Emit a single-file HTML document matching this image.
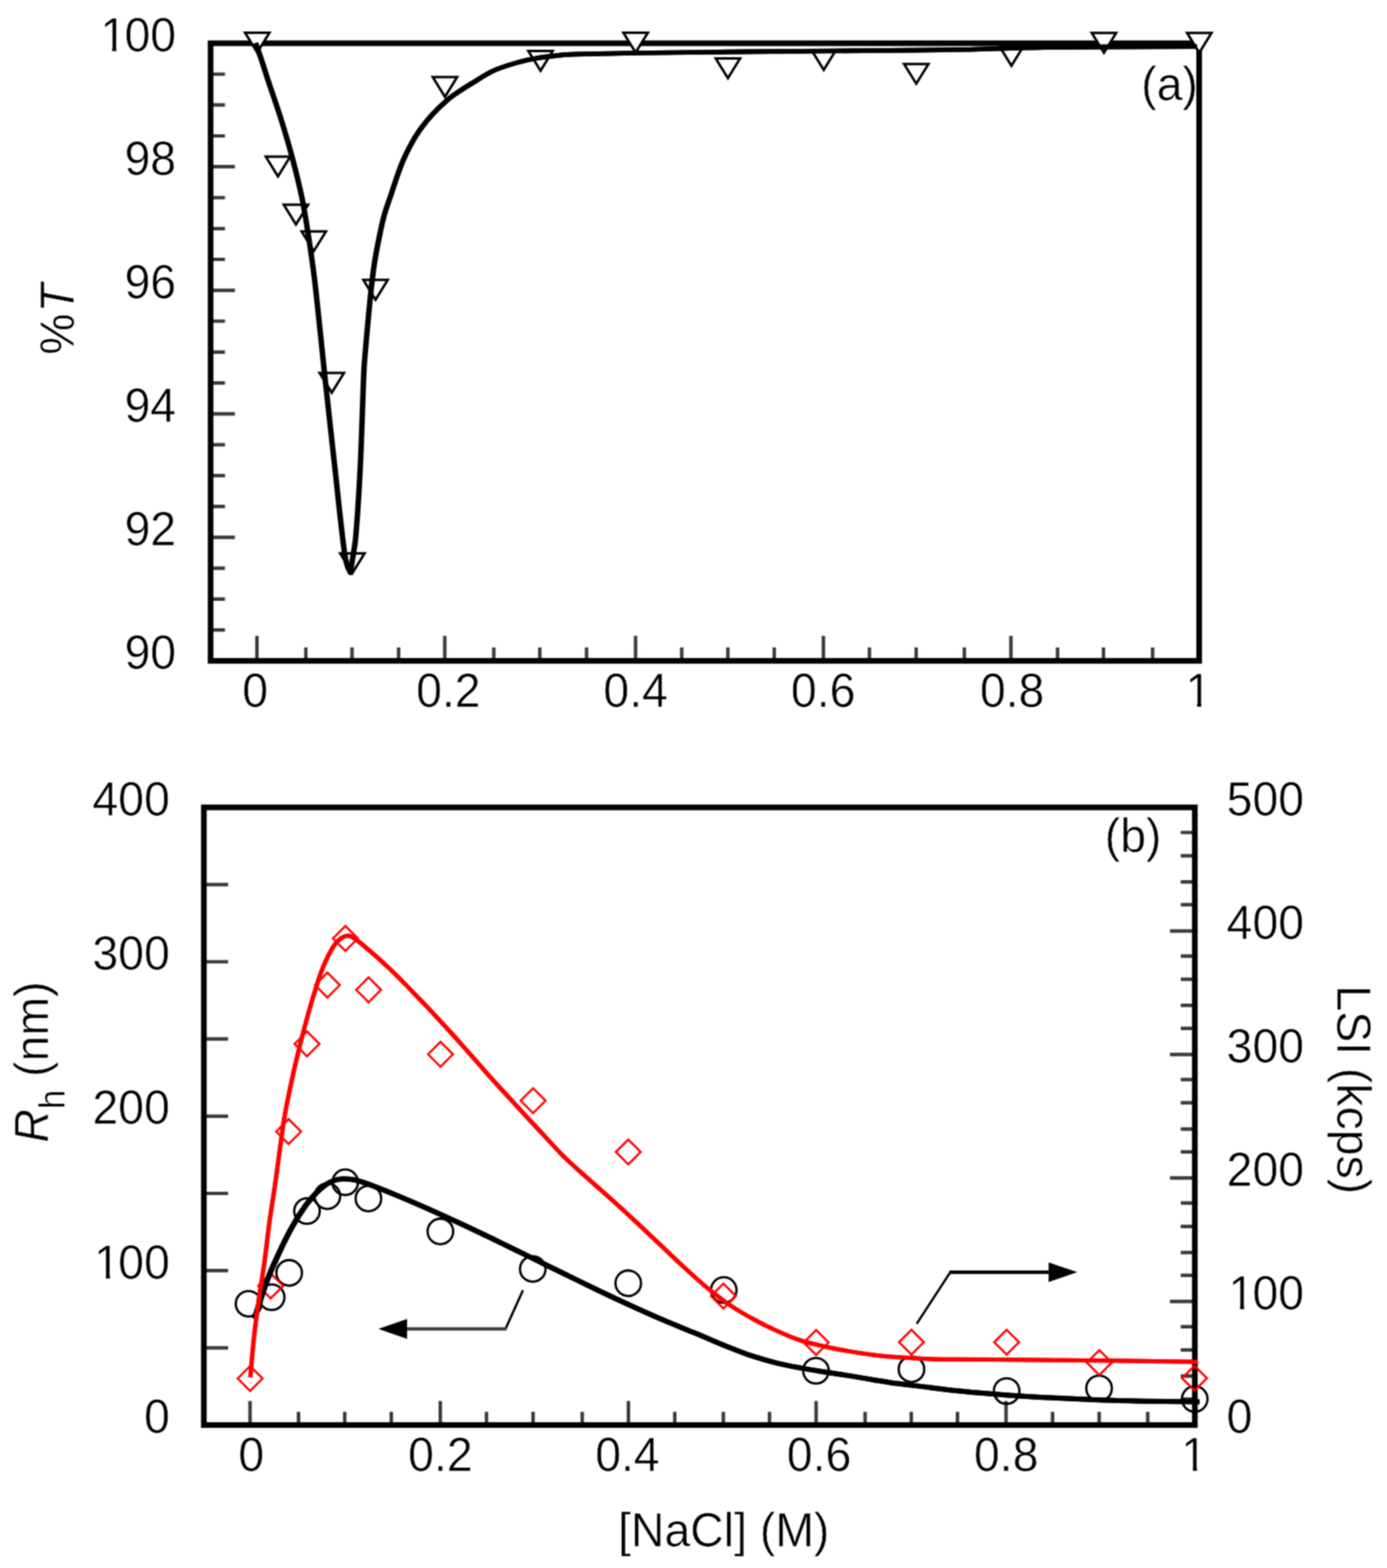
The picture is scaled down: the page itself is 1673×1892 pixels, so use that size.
<!DOCTYPE html>
<html lang="en">
<head>
<meta charset="utf-8">
<title>%T and R_h / LSI versus [NaCl]</title>
<style>
html,body{margin:0;padding:0;background:#fff}
body{width:1673px;height:1892px;overflow:hidden}
svg{display:block}
text{font-family:"Liberation Sans",Arial,Helvetica,sans-serif;font-size:56px;fill:#000;stroke:#fff;stroke-width:0.55px;stroke-linejoin:round}
</style>
</head>
<body>
<svg xmlns="http://www.w3.org/2000/svg" width="1673" height="1892" viewBox="0 0 1673 1892">
<defs><filter id="soft" x="0" y="0" width="100%" height="100%" filterUnits="objectBoundingBox" color-interpolation-filters="sRGB"><feConvolveMatrix order="3" kernelMatrix="1 2 1 2 4 2 1 2 1" divisor="16" edgeMode="duplicate" preserveAlpha="true"/></filter></defs>
<rect width="1673" height="1892" fill="#fff"/>
<g filter="url(#soft)">
<rect width="1673" height="1892" fill="#fff"/>
<g id="panel-a">
<path d="M254,89.5 H271.4 M254,126.7 H271.4 M254,164 H271.4 M254,201.2 H283.4 M254,238.5 H271.4 M254,275.8 H271.4 M254,313 H271.4 M254,350.3 H283.4 M254,387.5 H271.4 M254,424.8 H271.4 M254,462.1 H271.4 M254,499.3 H283.4 M254,536.6 H271.4 M254,573.8 H271.4 M254,611.1 H271.4 M254,648.4 H283.4 M254,685.6 H271.4 M254,722.9 H271.4 M254,760.1 H271.4 M309.9,797.4 V767.2 M368.9,797.4 V781.2 M424.6,797.4 V781.2 M480.8,797.4 V781.2 M536.5,797.4 V767.2 M595.6,797.4 V781.2 M651.1,797.4 V781.2 M707.5,797.4 V781.2 M766.6,797.4 V767.2 M822.3,797.4 V781.2 M878,797.4 V781.2 M933.9,797.4 V781.2 M993.2,797.4 V767.2 M1048.7,797.4 V781.2 M1105.1,797.4 V781.2 M1163.2,797.4 V781.2 M1219.4,797.4 V767.2 M1275.6,797.4 V781.2 M1331,797.4 V781.2 M1390.3,797.4 V781.2" fill="none" stroke="#3a3a3a" stroke-width="4.2"/>
<rect x="254" y="52.2" width="1192.4" height="745.2" fill="none" stroke="#000" stroke-width="6.8"/>
<text transform="translate(121.3,61.6) scale(1,1.035)">1<tspan dx="-2.2">00</tspan></text>
<rect x="124.33" y="55.67" width="11.02" height="7.13" fill="#fff"/>
<rect x="140.30" y="55.67" width="10.58" height="7.13" fill="#fff"/>
<text transform="translate(212.5,210.6) scale(1,1.035)" text-anchor="end">98</text>
<text transform="translate(212.5,359.7) scale(1,1.035)" text-anchor="end">96</text>
<text transform="translate(212.5,508.7) scale(1,1.035)" text-anchor="end">94</text>
<text transform="translate(212.5,657.8) scale(1,1.035)" text-anchor="end">92</text>
<text transform="translate(212.5,806.8) scale(1,1.035)" text-anchor="end">90</text>
<text transform="translate(307.8,853.1) scale(1,1.035)" text-anchor="middle">0</text>
<text transform="translate(540.8,853.1) scale(1,1.035)" text-anchor="middle">0.2</text>
<text transform="translate(766.7,853.1) scale(1,1.035)" text-anchor="middle">0.4</text>
<text transform="translate(992.9,853.1) scale(1,1.035)" text-anchor="middle">0.6</text>
<text transform="translate(1220.8,853.1) scale(1,1.035)" text-anchor="middle">0.8</text>
<text transform="translate(1429.9,853.1) scale(1,1.035)">1</text>
<rect x="1432.99" y="847.17" width="11.02" height="7.13" fill="#fff"/>
<rect x="1448.96" y="847.17" width="10.58" height="7.13" fill="#fff"/>
<text transform="translate(1445,121.3) scale(1,1.035)" text-anchor="end">(a)</text>
<text transform="translate(89,428) rotate(-90) scale(1,1.035)">%<tspan font-style="italic" dx="1.6">T</tspan></text>
<g fill="#fff" stroke="#000" stroke-width="3" stroke-linejoin="miter">
<path d="M295.6,39.6 h29.4 l-14.7,23.8 z"/>
<path d="M320.6,189.1 h29.4 l-14.7,23.8 z"/>
<path d="M342.3,247 h29.4 l-14.7,23.8 z"/>
<path d="M363.8,279.2 h29.4 l-14.7,23.8 z"/>
<path d="M385.5,450.1 h29.4 l-14.7,23.8 z"/>
<path d="M410.3,667.8 h29.4 l-14.7,23.8 z"/>
<path d="M438.3,337.8 h29.4 l-14.7,23.8 z"/>
<path d="M522,93 h29.4 l-14.7,23.8 z"/>
<path d="M637.3,61.6 h29.4 l-14.7,23.8 z"/>
<path d="M752,39.5 h29.4 l-14.7,23.8 z"/>
<path d="M863.3,70.6 h29.4 l-14.7,23.8 z"/>
<path d="M978.9,60.6 h29.4 l-14.7,23.8 z"/>
<path d="M1090.5,77.2 h29.4 l-14.7,23.8 z"/>
<path d="M1205.3,55.6 h29.4 l-14.7,23.8 z"/>
<path d="M1316.9,39.8 h29.4 l-14.7,23.8 z"/>
<path d="M1431.9,39.8 h29.4 l-14.7,23.8 z"/>
</g>
<g fill="none" stroke="#000" stroke-width="5.6" stroke-linejoin="round">
<path transform="translate(-0.5,0)" d="M308.3,52 C309.5,55.3 312.9,64.7 315.3,72 C317.7,79.3 319,83.7 322.9,95.6 C326.8,107.5 333.9,127.5 338.9,143.5 C343.9,159.4 348.6,175.4 352.8,191.3 C357,207.2 361,223.2 364.3,239.1 C367.6,255 369.9,271 372.4,286.9 C374.9,302.8 377.1,318.8 379.1,334.7 C381.1,350.6 382.2,362.4 384.4,382.6 C386.5,402.8 388.8,425.9 392,455.7 C395.2,485.5 399.7,526.2 403.6,561.4 C407.5,596.6 412.4,645.5 415.6,667.1 C418.8,688.7 421.4,687 422.6,691 C423.2,687 425.2,675.3 426.4,667.1 C427.6,658.9 428.2,659.4 429.6,642 C431,624.6 433.1,593.8 434.6,562.7 C436.1,531.7 437.7,477.8 438.6,455.7 C439.5,433.6 439.5,439.3 440.2,430 C440.9,420.7 441.6,413.3 442.8,400 C444,386.7 446.1,363.7 447.6,350 C449.1,336.3 450,328.5 451.6,318 C453.2,307.5 455.3,296.6 457.3,286.9 C459.3,277.2 460.9,268.8 463.4,260 C465.8,251.2 469.5,241.4 472,233.9 C474.5,226.4 476.1,221.2 478.3,214.8 C480.5,208.4 482.7,202 485.4,195.6 C488.1,189.2 491.1,182.9 494.5,176.5 C497.9,170.1 501.5,163.8 506,157.4 C510.5,151 515.4,144.7 521.3,138.3 C527.2,131.9 535.8,123.9 541.4,119.1 C547,114.3 550,112.8 554.8,109.6 C559.6,106.4 563.4,104 570.1,100 C576.8,96 585.9,89.6 594.8,85.5 C603.7,81.4 614.7,78.1 623.5,75.6 C632.3,73 639.4,71.6 647.4,70.2 C655.4,68.8 663.3,67.9 671.3,67.1 C679.3,66.3 679.3,65.9 695.2,65.4 C711.1,64.9 736.1,64.5 766.9,64 C797.7,63.5 841.1,63 880,62.6 C918.9,62.2 963.3,61.8 1000,61.5 C1036.7,61.2 1071.7,60.9 1100,60.6 C1128.3,60.3 1150.3,60.1 1170,59.7 C1189.7,59.3 1203,58.7 1218,58.3 C1233,57.9 1241.3,57.6 1260,57.3 C1278.7,57 1299.4,56.8 1330,56.6 C1360.6,56.4 1424.6,56.3 1443.5,56.2"/>
<path transform="translate(0.5,0)" d="M308.3,52 C309.5,55.3 312.9,64.7 315.3,72 C317.7,79.3 319,83.7 322.9,95.6 C326.8,107.5 333.9,127.5 338.9,143.5 C343.9,159.4 348.6,175.4 352.8,191.3 C357,207.2 361,223.2 364.3,239.1 C367.6,255 369.9,271 372.4,286.9 C374.9,302.8 377.1,318.8 379.1,334.7 C381.1,350.6 382.2,362.4 384.4,382.6 C386.5,402.8 388.8,425.9 392,455.7 C395.2,485.5 399.7,526.2 403.6,561.4 C407.5,596.6 412.4,645.5 415.6,667.1 C418.8,688.7 421.4,687 422.6,691 C423.2,687 425.2,675.3 426.4,667.1 C427.6,658.9 428.2,659.4 429.6,642 C431,624.6 433.1,593.8 434.6,562.7 C436.1,531.7 437.7,477.8 438.6,455.7 C439.5,433.6 439.5,439.3 440.2,430 C440.9,420.7 441.6,413.3 442.8,400 C444,386.7 446.1,363.7 447.6,350 C449.1,336.3 450,328.5 451.6,318 C453.2,307.5 455.3,296.6 457.3,286.9 C459.3,277.2 460.9,268.8 463.4,260 C465.8,251.2 469.5,241.4 472,233.9 C474.5,226.4 476.1,221.2 478.3,214.8 C480.5,208.4 482.7,202 485.4,195.6 C488.1,189.2 491.1,182.9 494.5,176.5 C497.9,170.1 501.5,163.8 506,157.4 C510.5,151 515.4,144.7 521.3,138.3 C527.2,131.9 535.8,123.9 541.4,119.1 C547,114.3 550,112.8 554.8,109.6 C559.6,106.4 563.4,104 570.1,100 C576.8,96 585.9,89.6 594.8,85.5 C603.7,81.4 614.7,78.1 623.5,75.6 C632.3,73 639.4,71.6 647.4,70.2 C655.4,68.8 663.3,67.9 671.3,67.1 C679.3,66.3 679.3,65.9 695.2,65.4 C711.1,64.9 736.1,64.5 766.9,64 C797.7,63.5 841.1,63 880,62.6 C918.9,62.2 963.3,61.8 1000,61.5 C1036.7,61.2 1071.7,60.9 1100,60.6 C1128.3,60.3 1150.3,60.1 1170,59.7 C1189.7,59.3 1203,58.7 1218,58.3 C1233,57.9 1241.3,57.6 1260,57.3 C1278.7,57 1299.4,56.8 1330,56.6 C1360.6,56.4 1424.6,56.3 1443.5,56.2"/>
</g>
</g>
<g id="panel-b">
<path d="M245.9,1067.4 H275.2 M245.9,1160.5 H275.2 M245.9,1253.7 H275.2 M245.9,1346.8 H275.2 M245.9,1440 H275.2 M245.9,1533.2 H275.2 M245.9,1626.3 H275.2 M1441.2,1004.5 H1424.2 M1441.2,1032.6 H1424.2 M1441.2,1064.1 H1424.2 M1441.2,1091.7 H1424.2 M1441.2,1123.3 H1411.2 M1441.2,1153.6 H1424.2 M1441.2,1181.7 H1424.2 M1441.2,1213.2 H1424.2 M1441.2,1240.8 H1424.2 M1441.2,1272.3 H1411.2 M1441.2,1302.6 H1424.2 M1441.2,1330.7 H1424.2 M1441.2,1362.3 H1424.2 M1441.2,1389.9 H1424.2 M1441.2,1421.4 H1411.2 M1441.2,1451.7 H1424.2 M1441.2,1479.8 H1424.2 M1441.2,1511.3 H1424.2 M1441.2,1538.9 H1424.2 M1441.2,1570.4 H1411.2 M1441.2,1600.8 H1424.2 M1441.2,1628.9 H1424.2 M1441.2,1660.4 H1424.2 M1441.2,1688 H1424.2 M301.6,1719.5 V1690.4 M360.1,1719.5 V1703.6 M415.8,1719.5 V1703.6 M472,1719.5 V1703.6 M531.1,1719.5 V1690.4 M586.8,1719.5 V1703.6 M643,1719.5 V1703.6 M702.3,1719.5 V1703.6 M758,1719.5 V1690.4 M813.9,1719.5 V1703.6 M872.5,1719.5 V1703.6 M928.2,1719.5 V1703.6 M984.4,1719.5 V1690.4 M1043.5,1719.5 V1703.6 M1099.2,1719.5 V1703.6 M1154.9,1719.5 V1703.6 M1213.5,1719.5 V1690.4 M1269.6,1719.5 V1703.6 M1325.8,1719.5 V1703.6 M1384.4,1719.5 V1703.6" fill="none" stroke="#3a3a3a" stroke-width="4.2"/>
<rect x="245.9" y="974.2" width="1195.3" height="745.3" fill="none" stroke="#000" stroke-width="6.8"/>
<text transform="translate(204.8,983.6) scale(1,1.035)" text-anchor="end">400</text>
<text transform="translate(204.8,1169.9) scale(1,1.035)" text-anchor="end">300</text>
<text transform="translate(204.8,1356.2) scale(1,1.035)" text-anchor="end">200</text>
<text transform="translate(113.6,1542.6) scale(1,1.035)">1<tspan dx="-2.2">00</tspan></text>
<rect x="116.63" y="1536.64" width="11.02" height="7.13" fill="#fff"/>
<rect x="132.60" y="1536.64" width="10.58" height="7.13" fill="#fff"/>
<text transform="translate(204.8,1728.9) scale(1,1.035)" text-anchor="end">0</text>
<text transform="translate(1479.5,983.6) scale(1,1.035)">500</text>
<text transform="translate(1479.5,1132.7) scale(1,1.035)">400</text>
<text transform="translate(1479.5,1281.7) scale(1,1.035)">300</text>
<text transform="translate(1479.5,1430.8) scale(1,1.035)">200</text>
<text transform="translate(1481.7,1579.8) scale(1,1.035)">1<tspan dx="-2.2">00</tspan></text>
<rect x="1484.77" y="1573.91" width="11.02" height="7.13" fill="#fff"/>
<rect x="1500.73" y="1573.91" width="10.58" height="7.13" fill="#fff"/>
<text transform="translate(1479.5,1728.9) scale(1,1.035)">0</text>
<text transform="translate(303.1,1775.4) scale(1,1.035)" text-anchor="middle">0</text>
<text transform="translate(531.2,1775.4) scale(1,1.035)" text-anchor="middle">0.2</text>
<text transform="translate(756.8,1775.4) scale(1,1.035)" text-anchor="middle">0.4</text>
<text transform="translate(987.9,1775.4) scale(1,1.035)" text-anchor="middle">0.6</text>
<text transform="translate(1213.6,1775.4) scale(1,1.035)" text-anchor="middle">0.8</text>
<text transform="translate(1424.7,1775.4) scale(1,1.035)">1</text>
<rect x="1427.79" y="1769.47" width="11.02" height="7.13" fill="#fff"/>
<rect x="1443.76" y="1769.47" width="10.58" height="7.13" fill="#fff"/>
<text transform="translate(1401,1027.6) scale(1,1.035)" text-anchor="end">(b)</text>
<text transform="translate(58.4,1378.8) rotate(-90) scale(1,1.035)"><tspan font-style="italic">R</tspan><tspan font-size="42" dy="18.5">h</tspan><tspan dy="-18.5"> (nm)</tspan></text>
<text transform="translate(1613.2,1189) rotate(90) scale(1,1.035)">LSI (kcps)</text>
<text transform="translate(873,1865.7) scale(1,1.035)" text-anchor="middle">[NaCl] (M)</text>
<g fill="none" stroke="#000" stroke-width="2.8">
<circle cx="299.8" cy="1573.2" r="15.4"/>
<circle cx="327.7" cy="1565.3" r="15.4"/>
<circle cx="348.8" cy="1535.9" r="15.4"/>
<circle cx="370.3" cy="1461.3" r="15.4"/>
<circle cx="394.9" cy="1443.4" r="15.4"/>
<circle cx="416.4" cy="1426.6" r="15.4"/>
<circle cx="444.4" cy="1446.2" r="15.4"/>
<circle cx="531.2" cy="1485.9" r="15.4"/>
<circle cx="642.6" cy="1531.2" r="15.4"/>
<circle cx="757.8" cy="1548.4" r="15.4"/>
<circle cx="873" cy="1556.6" r="15.4"/>
<circle cx="984.2" cy="1654" r="15.4"/>
<circle cx="1099.4" cy="1652.2" r="15.4"/>
<circle cx="1214.2" cy="1678.5" r="15.4"/>
<circle cx="1325.7" cy="1675.2" r="15.4"/>
<circle cx="1441.1" cy="1688.1" r="15.4"/>
</g>
<g fill="none" stroke="#f00" stroke-width="2.6" stroke-linejoin="miter">
<path d="M286.7,1663.3 l15,-15 l15,15 l-15,15 z"/>
<path d="M311.5,1551.7 l15,-15 l15,15 l-15,15 z"/>
<path d="M333.1,1365.3 l15,-15 l15,15 l-15,15 z"/>
<path d="M355.3,1259.6 l15,-15 l15,15 l-15,15 z"/>
<path d="M379.9,1188.6 l15,-15 l15,15 l-15,15 z"/>
<path d="M401.6,1132.3 l15,-15 l15,15 l-15,15 z"/>
<path d="M429.6,1194.3 l15,-15 l15,15 l-15,15 z"/>
<path d="M516.3,1272.1 l15,-15 l15,15 l-15,15 z"/>
<path d="M628,1328.1 l15,-15 l15,15 l-15,15 z"/>
<path d="M742.8,1390 l15,-15 l15,15 l-15,15 z"/>
<path d="M857.6,1563.8 l15,-15 l15,15 l-15,15 z"/>
<path d="M969.4,1619.8 l15,-15 l15,15 l-15,15 z"/>
<path d="M1084.4,1619.5 l15,-15 l15,15 l-15,15 z"/>
<path d="M1199.2,1619.5 l15,-15 l15,15 l-15,15 z"/>
<path d="M1311,1644.2 l15,-15 l15,15 l-15,15 z"/>
<path d="M1425.8,1663 l15,-15 l15,15 l-15,15 z"/>
</g>
<g fill="none" stroke="#000" stroke-width="6.0" stroke-linejoin="round">
<path transform="translate(-0.5,0)" d="M307,1591 C309.4,1583.7 316.5,1560.2 321.3,1547.4 C326.1,1534.6 330.4,1525.1 335.6,1513.9 C340.8,1502.7 346.8,1490.4 352.4,1480.4 C358,1470.4 363.9,1461.3 369.1,1454.1 C374.3,1446.9 378.7,1442 383.5,1437.4 C388.3,1432.8 393,1429.1 397.8,1426.6 C402.6,1424.1 407.3,1423.1 412.1,1422.6 C416.9,1422.1 421.3,1422.5 426.5,1423.5 C431.7,1424.5 434.3,1425.2 443.2,1428.4 C452.1,1431.7 467.2,1437.7 480,1443 C492.8,1448.3 506.7,1454.3 520,1460.2 C533.3,1466.1 546.7,1472.3 560,1478.5 C573.3,1484.7 586.7,1491.2 600,1497.6 C613.3,1504 626.7,1510.6 640,1517.1 C653.3,1523.6 666.7,1530.3 680,1536.8 C693.3,1543.3 706.7,1549.8 720,1556.2 C733.3,1562.6 746.7,1568.9 760,1575 C773.3,1581.1 786.7,1587.1 800,1592.8 C813.3,1598.5 826.7,1603.7 840,1609.2 C853.3,1614.7 868.5,1621.4 880,1626 C891.5,1630.6 899.1,1633.6 908.7,1636.7 C918.3,1639.8 927.9,1642.5 937.4,1644.8 C946.9,1647.1 956.4,1648.8 966,1650.6 C975.6,1652.4 985.2,1654 994.8,1655.5 C1004.4,1657 1014,1658.4 1023.5,1659.9 C1033,1661.4 1042.4,1663.1 1052,1664.7 C1061.6,1666.3 1069.7,1667.8 1081,1669.3 C1092.3,1670.8 1108.5,1672.6 1120,1674 C1131.5,1675.4 1136.7,1676.4 1150,1677.8 C1163.3,1679.2 1181.7,1680.8 1200,1682.2 C1218.3,1683.6 1240,1685.1 1260,1686.2 C1280,1687.3 1300,1688.2 1320,1689 C1340,1689.8 1358.9,1690.3 1380,1690.7 C1401.1,1691.1 1435.4,1691.3 1446.5,1691.4"/>
<path transform="translate(0.5,0)" d="M307,1591 C309.4,1583.7 316.5,1560.2 321.3,1547.4 C326.1,1534.6 330.4,1525.1 335.6,1513.9 C340.8,1502.7 346.8,1490.4 352.4,1480.4 C358,1470.4 363.9,1461.3 369.1,1454.1 C374.3,1446.9 378.7,1442 383.5,1437.4 C388.3,1432.8 393,1429.1 397.8,1426.6 C402.6,1424.1 407.3,1423.1 412.1,1422.6 C416.9,1422.1 421.3,1422.5 426.5,1423.5 C431.7,1424.5 434.3,1425.2 443.2,1428.4 C452.1,1431.7 467.2,1437.7 480,1443 C492.8,1448.3 506.7,1454.3 520,1460.2 C533.3,1466.1 546.7,1472.3 560,1478.5 C573.3,1484.7 586.7,1491.2 600,1497.6 C613.3,1504 626.7,1510.6 640,1517.1 C653.3,1523.6 666.7,1530.3 680,1536.8 C693.3,1543.3 706.7,1549.8 720,1556.2 C733.3,1562.6 746.7,1568.9 760,1575 C773.3,1581.1 786.7,1587.1 800,1592.8 C813.3,1598.5 826.7,1603.7 840,1609.2 C853.3,1614.7 868.5,1621.4 880,1626 C891.5,1630.6 899.1,1633.6 908.7,1636.7 C918.3,1639.8 927.9,1642.5 937.4,1644.8 C946.9,1647.1 956.4,1648.8 966,1650.6 C975.6,1652.4 985.2,1654 994.8,1655.5 C1004.4,1657 1014,1658.4 1023.5,1659.9 C1033,1661.4 1042.4,1663.1 1052,1664.7 C1061.6,1666.3 1069.7,1667.8 1081,1669.3 C1092.3,1670.8 1108.5,1672.6 1120,1674 C1131.5,1675.4 1136.7,1676.4 1150,1677.8 C1163.3,1679.2 1181.7,1680.8 1200,1682.2 C1218.3,1683.6 1240,1685.1 1260,1686.2 C1280,1687.3 1300,1688.2 1320,1689 C1340,1689.8 1358.9,1690.3 1380,1690.7 C1401.1,1691.1 1435.4,1691.3 1446.5,1691.4"/>
</g>
<g fill="none" stroke="#f00" stroke-width="5.0" stroke-linejoin="round">
<path transform="translate(-0.2,0)" d="M302,1662 C302.6,1654.8 304.2,1634.2 305.8,1619.1 C307.4,1604 309.5,1587.2 311.7,1571.3 C313.9,1555.4 316.7,1539.5 318.9,1523.5 C321.1,1507.5 322.7,1491.5 324.9,1475.6 C327.1,1459.6 329.7,1443.7 332,1427.8 C334.3,1411.9 336.6,1393.5 338.5,1380 C340.4,1366.5 340.9,1360.4 343.3,1346.9 C345.7,1333.4 349.4,1315 352.9,1299.1 C356.4,1283.2 360.2,1267.2 364.3,1251.3 C368.4,1235.4 373.3,1217.5 377.5,1203.5 C381.7,1189.5 385.2,1178 389.4,1167.6 C393.6,1157.2 398.8,1147.3 402.6,1141.3 C406.4,1135.3 409.1,1133.7 412.2,1131.7 C415.3,1129.7 417.6,1128 421.5,1129.2 C425.4,1130.4 427.5,1131.9 435.9,1138.8 C444.3,1145.7 459.8,1159.1 471.7,1170.5 C483.6,1181.9 499.6,1198.8 507.6,1207 C515.6,1215.2 511.9,1211.3 520,1220 C528,1228.7 544.1,1246.1 555.9,1259.3 C567.7,1272.5 580.1,1287 590.8,1299 C601.5,1311 610,1320.1 620,1331 C630,1341.9 641,1353.8 651,1364.5 C661,1375.2 670.4,1386 680,1395.5 C689.6,1405 699.1,1413 708.7,1421.6 C718.3,1430.2 727.8,1438.6 737.4,1447.2 C747,1455.8 756.5,1464.5 766.1,1473.4 C775.7,1482.3 785.2,1491.5 794.8,1500.5 C804.4,1509.5 814,1518.8 823.5,1527.6 C833,1536.4 842.7,1545.4 852.1,1553.2 C861.5,1561 870.6,1568.1 880,1574.5 C889.4,1580.9 899.1,1586.5 908.7,1591.7 C918.3,1597 927.9,1601.7 937.4,1606 C946.9,1610.3 956.4,1614.4 966,1617.5 C975.6,1620.6 985.2,1622.5 994.8,1624.7 C1004.4,1626.9 1014,1628.7 1023.5,1630.4 C1033,1632.1 1042.4,1633.5 1052,1634.7 C1061.6,1635.9 1069.7,1636.8 1081,1637.6 C1092.3,1638.4 1108.5,1639.3 1120,1639.8 C1131.5,1640.2 1136.7,1640.2 1150,1640.3 C1163.3,1640.4 1178.3,1640.4 1200,1640.6 C1221.7,1640.8 1253.3,1641.1 1280,1641.3 C1306.7,1641.5 1332.5,1641.7 1360,1642 C1387.5,1642.3 1430.6,1643 1444.7,1643.2"/>
<path transform="translate(0.2,0)" d="M302,1662 C302.6,1654.8 304.2,1634.2 305.8,1619.1 C307.4,1604 309.5,1587.2 311.7,1571.3 C313.9,1555.4 316.7,1539.5 318.9,1523.5 C321.1,1507.5 322.7,1491.5 324.9,1475.6 C327.1,1459.6 329.7,1443.7 332,1427.8 C334.3,1411.9 336.6,1393.5 338.5,1380 C340.4,1366.5 340.9,1360.4 343.3,1346.9 C345.7,1333.4 349.4,1315 352.9,1299.1 C356.4,1283.2 360.2,1267.2 364.3,1251.3 C368.4,1235.4 373.3,1217.5 377.5,1203.5 C381.7,1189.5 385.2,1178 389.4,1167.6 C393.6,1157.2 398.8,1147.3 402.6,1141.3 C406.4,1135.3 409.1,1133.7 412.2,1131.7 C415.3,1129.7 417.6,1128 421.5,1129.2 C425.4,1130.4 427.5,1131.9 435.9,1138.8 C444.3,1145.7 459.8,1159.1 471.7,1170.5 C483.6,1181.9 499.6,1198.8 507.6,1207 C515.6,1215.2 511.9,1211.3 520,1220 C528,1228.7 544.1,1246.1 555.9,1259.3 C567.7,1272.5 580.1,1287 590.8,1299 C601.5,1311 610,1320.1 620,1331 C630,1341.9 641,1353.8 651,1364.5 C661,1375.2 670.4,1386 680,1395.5 C689.6,1405 699.1,1413 708.7,1421.6 C718.3,1430.2 727.8,1438.6 737.4,1447.2 C747,1455.8 756.5,1464.5 766.1,1473.4 C775.7,1482.3 785.2,1491.5 794.8,1500.5 C804.4,1509.5 814,1518.8 823.5,1527.6 C833,1536.4 842.7,1545.4 852.1,1553.2 C861.5,1561 870.6,1568.1 880,1574.5 C889.4,1580.9 899.1,1586.5 908.7,1591.7 C918.3,1597 927.9,1601.7 937.4,1606 C946.9,1610.3 956.4,1614.4 966,1617.5 C975.6,1620.6 985.2,1622.5 994.8,1624.7 C1004.4,1626.9 1014,1628.7 1023.5,1630.4 C1033,1632.1 1042.4,1633.5 1052,1634.7 C1061.6,1635.9 1069.7,1636.8 1081,1637.6 C1092.3,1638.4 1108.5,1639.3 1120,1639.8 C1131.5,1640.2 1136.7,1640.2 1150,1640.3 C1163.3,1640.4 1178.3,1640.4 1200,1640.6 C1221.7,1640.8 1253.3,1641.1 1280,1641.3 C1306.7,1641.5 1332.5,1641.7 1360,1642 C1387.5,1642.3 1430.6,1643 1444.7,1643.2"/>
</g>
<g fill="none" stroke="#000" stroke-width="2.8">
<path d="M630.8,1556.8 L609.8,1603.4"/>
<path d="M1105.8,1597.2 L1146.3,1535.1"/>
</g>
<path d="M611,1603.4 H488" fill="none" stroke="#3a3a3a" stroke-width="4"/>
<path d="M1145,1535.1 H1268" fill="none" stroke="#000" stroke-width="4.2"/>
<path d="M456.4,1603.4 L491,1591.4 V1615.4 Z" fill="#000"/>
<path d="M1299.5,1535.1 L1264.8,1523.3 V1546.9 Z" fill="#000"/>
</g>
</g>
</svg>
</body>
</html>
